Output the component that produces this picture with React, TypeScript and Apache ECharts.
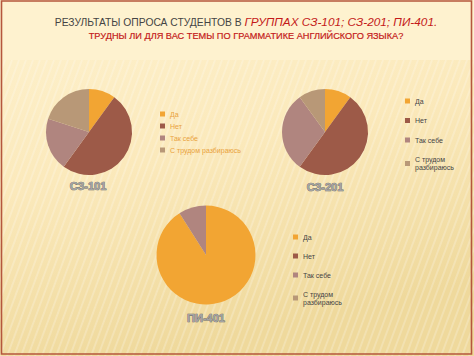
import React, { useEffect, useRef } from "react";
import * as echarts from "echarts";

const categories = ["Да", "Нет", "Так себе", "С трудом разбираюсь"];
const groupNames = ["СЗ-101", "СЗ-201", "ПИ-401"];
const valuesSZ101 = [10, 50, 20, 20];
const valuesSZ201 = [10, 50, 30, 10];
const valuesPI401 = [91, 0, 9, 0];
const sliceColors = ["#f2a533", "#9d5a48", "#b0857f", "#b89877"];
const titleGray = "РЕЗУЛЬТАТЫ ОПРОСА СТУДЕНТОВ В ";
const titleRed = "ГРУППАХ СЗ-101; СЗ-201; ПИ-401.";
const subtitle = "ТРУДНЫ ЛИ ДЛЯ ВАС ТЕМЫ ПО ГРАММАТИКЕ АНГЛИЙСКОГО ЯЗЫКА?";

const FONT = "Liberation Sans, Arial, sans-serif";

export default function App() {
  const ref = useRef<HTMLDivElement>(null);
  useEffect(() => {
    if (!ref.current) return;
    const chart = echarts.init(ref.current, null, { renderer: "svg" });
    const allValues = [valuesSZ101, valuesSZ201, valuesPI401];
    const pieGeom = [
      { c: [89, 132], r: 43 },
      { c: [325, 132], r: 43 },
      { c: [206, 255], r: 49.5 },
    ];
    const labelPos = [
      [88, 186],
      [325, 187],
      [206, 318],
    ];
    const wrap = (n: string) => (n.length > 12 ? n.replace(/ (\S+)$/, "\n$1") : n);
    const legendBase = {
      orient: "vertical" as const,
      icon: "rect",
      itemWidth: 5,
      itemHeight: 5,
      padding: 0,
      selectedMode: false,
      data: categories,
    };
    const stripes: any[] = [];
    for (let k = -30; k < 70; k++) {
      const x = k * 7;
      stripes.push({
        type: "line",
        z: -9,
        silent: true,
        shape: { x1: x, y1: 356, x2: x + 110, y2: 60 },
        style: { stroke: "rgba(255,255,255,0.22)", lineWidth: 2 },
      });
    }
    const option: any = {
      animation: false,
      color: sliceColors,
      backgroundColor: "#fbecc0",
      graphic: [
        {
          type: "rect",
          z: -10,
          shape: { x: 0, y: 0, width: 474, height: 356 },
          style: {
            fill: new echarts.graphic.LinearGradient(0, 0, 0.3, 1, [
              { offset: 0, color: "#fef2cf" },
              { offset: 0.5, color: "#fbe9bb" },
              { offset: 1, color: "#efd99c" },
            ]),
          },
          silent: true,
        },
        ...stripes,
        {
          type: "rect",
          z: -9,
          shape: { x: 0, y: 0, width: 474, height: 60 },
          style: { fill: "#fef2cf" },
          silent: true,
        },
        {
          type: "rect",
          z: -5,
          shape: { x: 1.5, y: 1, width: 470, height: 353 },
          style: { fill: "none", stroke: "#b5573d", lineWidth: 1.6 },
          silent: true,
        },
        {
          type: "line",
          z: -5,
          shape: { x1: 30, y1: 56, x2: 455, y2: 56 },
          style: {
            stroke: new echarts.graphic.LinearGradient(0, 0, 1, 0, [
              { offset: 0, color: "rgba(236,180,90,0)" },
              { offset: 0.2, color: "rgba(236,180,90,0.9)" },
              { offset: 0.8, color: "rgba(236,180,90,0.9)" },
              { offset: 1, color: "rgba(236,180,90,0)" },
            ]),
            lineWidth: 1,
          },
          silent: true,
        },
        {
          type: "text",
          x: 246,
          y: 22,
          style: {
            text: `{a|${titleGray}}{b|${titleRed}}`,
            align: "center",
            verticalAlign: "middle",
            rich: {
              a: { fontFamily: FONT, fontSize: 10.3, fill: "#444444", fontWeight: "normal" },
              b: { fontFamily: FONT, fontSize: 11.8, fill: "#c41a1a", fontStyle: "italic" },
            },
          },
        },
        {
          type: "text",
          x: 246,
          y: 36,
          style: {
            text: subtitle,
            align: "center",
            verticalAlign: "middle",
            fontFamily: FONT,
            fontSize: 9.2,
            fill: "#c41a1a",
            stroke: "#c41a1a",
            lineWidth: 0.2,
          },
        },
        ...groupNames.map((g, i) => ({
          type: "text",
          x: labelPos[i][0],
          y: labelPos[i][1],
          style: {
            text: g,
            align: "center",
            verticalAlign: "middle",
            fontFamily: FONT,
            fontWeight: "bold",
            fontSize: 11,
            fill: "#a3a3a3",
            stroke: "#5e5e5e",
            lineWidth: 0.7,
          },
        })),
      ],
      legend: [
        {
          ...legendBase,
          left: 160,
          top: 110,
          itemGap: 4,
          textStyle: { fontFamily: FONT, fontSize: 7, lineHeight: 8, color: "#e9a23c" },
        },
        {
          ...legendBase,
          left: 405,
          top: 97,
          itemGap: 11.5,
          formatter: wrap,
          textStyle: { fontFamily: FONT, fontSize: 7, lineHeight: 8, color: "#444444" },
        },
        {
          ...legendBase,
          left: 293,
          top: 233,
          itemGap: 11,
          formatter: wrap,
          textStyle: { fontFamily: FONT, fontSize: 7, lineHeight: 8, color: "#444444" },
        },
      ],
      series: allValues.map((vals, i) => ({
        type: "pie",
        name: groupNames[i],
        center: pieGeom[i].c,
        radius: pieGeom[i].r,
        startAngle: 90,
        clockwise: true,
        label: { show: false },
        labelLine: { show: false },
        emphasis: { disabled: true },
        itemStyle: { borderWidth: 0 },
        data: categories.map((c, j) => ({ name: c, value: vals[j] })),
      })),
    };
    chart.setOption(option);
    return () => chart.dispose();
  }, []);
  return (
    <div
      ref={ref}
      style={{ position: "fixed", left: 0, top: 0, width: 474, height: 356 }}
    />
  );
}
